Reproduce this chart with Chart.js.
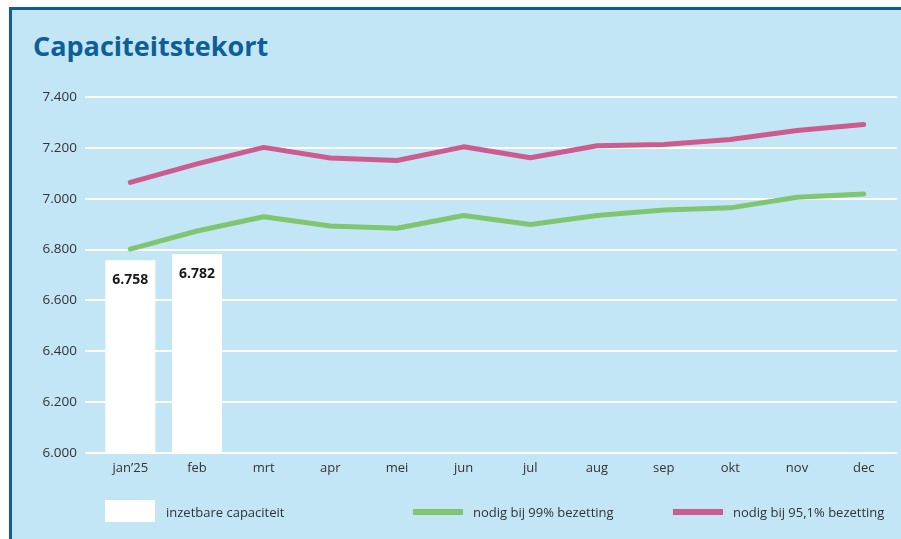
<!DOCTYPE html>
<html>
<head>
<meta charset="utf-8">
<script src="https://cdn.jsdelivr.net/npm/chart.js@4.4.1/dist/chart.umd.min.js"></script>
<style>
  html, body { margin: 0; padding: 0; background: #ffffff; width: 901px; height: 539px; overflow: hidden; }
  #box { position: absolute; left: 9px; top: 7px; width: 900px; height: 540px; background: #c3e6f7;
         border-left: 3px solid #0d5f97; border-top: 3px solid #0d5f97; box-sizing: border-box; }
  #title { position: absolute; left: 33px; top: 27px; font-family: "Open Sans", sans-serif; font-weight: 700;
           font-size: 27px; line-height: 38px; color: #0d5f97; letter-spacing: 0px; }
  canvas { position: absolute; left: 0; top: 0; }
  .lg { position: absolute; font-family: "Open Sans", sans-serif; font-size: 13px; color: #333; top: 503px; }
  .sw { position: absolute; }
</style>
</head>
<body>
<div id="box"></div>
<div id="title">Capaciteitstekort</div>
<canvas id="c" width="901" height="539"></canvas>
<div class="sw" style="left:105px;top:500px;width:50px;height:22px;background:#ffffff"></div>
<div class="lg" style="left:166px">inzetbare capaciteit</div>
<div class="sw" style="left:413px;top:509px;width:50px;height:6px;background:#80c670"></div>
<div class="lg" style="left:473px">nodig bij 99% bezetting</div>
<div class="sw" style="left:673px;top:509px;width:50px;height:6px;background:#cd5c8e"></div>
<div class="lg" style="left:733px">nodig bij 95,1% bezetting</div>
<script>
const categories = ["jan\u201925","feb","mrt","apr","mei","jun","jul","aug","sep","okt","nov","dec"];
const inzetbare = [6758, 6782, null, null, null, null, null, null, null, null, null, null];
const nodig99 = [6802, 6873, 6929, 6893, 6884, 6934, 6899, 6934, 6956, 6964, 7006, 7019];
const nodig951 = [7064, 7137, 7202, 7160, 7150, 7204, 7161, 7208, 7213, 7233, 7268, 7292];
const yMin = 6000, yMax = 7400, yStep = 200;

function fmt(v){ return String(v).replace(/\B(?=(\d{3})+(?!\d))/g, '.'); }

const barLabels = {
  id: 'barLabels',
  afterDatasetsDraw(chart){
    const ctx = chart.ctx;
    const meta = chart.getDatasetMeta(0);
    ctx.save();
    ctx.font = 'bold 14px "Open Sans", sans-serif';
    ctx.fillStyle = '#1a1a1a';
    ctx.textAlign = 'center';
    ctx.textBaseline = 'middle';
    meta.data.forEach((el, i) => {
      const v = inzetbare[i];
      if (v == null) return;
      ctx.fillText(fmt(v), el.x, el.y + 20);
    });
    ctx.restore();
  }
};

new Chart(document.getElementById('c'), {
  data: {
    labels: categories,
    datasets: [
      { type: 'bar', label: 'inzetbare capaciteit', data: inzetbare, backgroundColor: '#ffffff',
        borderWidth: 0, barPercentage: 0.75, categoryPercentage: 1.0, order: 3 },
      { type: 'line', label: 'nodig bij 99% bezetting', data: nodig99, borderColor: '#80c670',
        borderWidth: 5, pointRadius: 0, borderCapStyle: 'round', borderJoinStyle: 'round', tension: 0, order: 2 },
      { type: 'line', label: 'nodig bij 95,1% bezetting', data: nodig951, borderColor: '#cd5c8e',
        borderWidth: 5, pointRadius: 0, borderCapStyle: 'round', borderJoinStyle: 'round', tension: 0, order: 1 }
    ]
  },
  options: {
    responsive: false,
    animation: false,
    layout: { padding: { left: 0, right: 4, top: 97, bottom: 56 } },
    plugins: { legend: { display: false }, tooltip: { enabled: false }, title: { display: false } },
    scales: {
      x: {
        grid: { display: false, drawTicks: false },
        border: { display: false },
        ticks: { color: '#333', font: { family: '"Open Sans", sans-serif', size: 13 }, padding: 7, maxRotation: 0 },
        afterFit(s){ s.height = 30; }
      },
      y: {
        min: yMin, max: yMax,
        grid: { color: '#ffffff', lineWidth: 2, tickLength: 12, tickColor: '#ffffff', drawTicks: true },
        border: { display: false },
        ticks: { stepSize: yStep, color: '#333', font: { family: '"Open Sans", sans-serif', size: 13.5 }, padding: 8,
                 callback: v => fmt(v) },
        afterFit(s){ s.width = 97; }
      }
    }
  },
  plugins: [barLabels]
});
</script>
</body>
</html>
